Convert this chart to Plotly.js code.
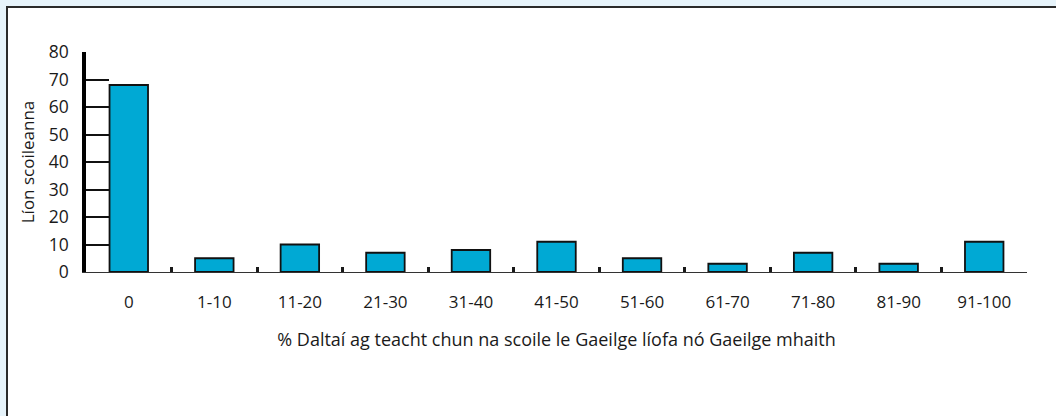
<!DOCTYPE html>
<html>
<head>
<meta charset="utf-8">
<script src="https://cdn.plot.ly/plotly-3.0.1.min.js"></script>
<style>
  html, body { margin: 0; padding: 0; background: #e6f3fa; width: 1056px; height: 416px; overflow: hidden; }
  #frame { position: absolute; left: 6px; top: 6px; width: 1050px; height: 410px; background: #fff;
           border-top: 2px solid #2a2a2a; border-left: 2px solid #2a2a2a; box-sizing: border-box; }
  #chart { position: absolute; left: 0; top: 0; width: 1048px; height: 408px; }
</style>
</head>
<body>
<div id="frame"><div id="chart"></div></div>
<script>
const categories = ["0", "1-10", "11-20", "21-30", "31-40", "41-50", "51-60", "61-70", "71-80", "81-90", "91-100"];
const schoolCounts = [68, 5, 10, 7, 8, 11, 5, 3, 7, 3, 11];
const yTickValues = [0, 10, 20, 30, 40, 50, 60, 70, 80];
const xTitle = "% Daltaí ag teacht chun na scoile le Gaeilge líofa nó Gaeilge mhaith";
const yTitle = "Líon scoileanna";

const font = "'Open Sans', 'Noto Sans', sans-serif";

const trace = {
  type: "bar",
  x: categories,
  y: schoolCounts,
  width: 0.45,
  marker: { color: "#00a9d4", line: { color: "#111", width: 1.8 } },
  hoverinfo: "x+y"
};

const layout = {
  width: 1048, height: 408,
  margin: { l: 78, r: 29, t: 44, b: 144 },
  paper_bgcolor: "#fff", plot_bgcolor: "#fff",
  showlegend: false,
  font: { family: font, color: "#1a1a1a", size: 15 },
  xaxis: {
    type: "category",
    range: [-0.5, 10.5],
    showgrid: false, zeroline: false,
    showline: true, linecolor: "#333", linewidth: 1,
    ticks: "inside", tickson: "boundaries", ticklen: 5, tickwidth: 3, tickcolor: "#1a1a1a",
    ticklabelstandoff: 15,
    tickfont: { family: font, size: 17, color: "#1a1a1a" },
    title: { text: xTitle, font: { family: font, size: 18, color: "#1a1a1a" }, standoff: 20 },
    fixedrange: true
  },
  yaxis: {
    range: [0, 80],
    tickvals: yTickValues,
    showgrid: false, zeroline: false,
    showline: true, linecolor: "#000", linewidth: 3.5,
    ticks: "inside", ticklen: 23, tickwidth: 1.5, tickcolor: "#111",
    ticklabelstandoff: 10,
    tickfont: { family: font, size: 17.5, color: "#1a1a1a" },
    title: { text: yTitle, font: { family: font, size: 17, color: "#1a1a1a" }, standoff: 11 },
    fixedrange: true
  }
};

Plotly.newPlot("chart", [trace], layout, { displayModeBar: false });
</script>
</body>
</html>
